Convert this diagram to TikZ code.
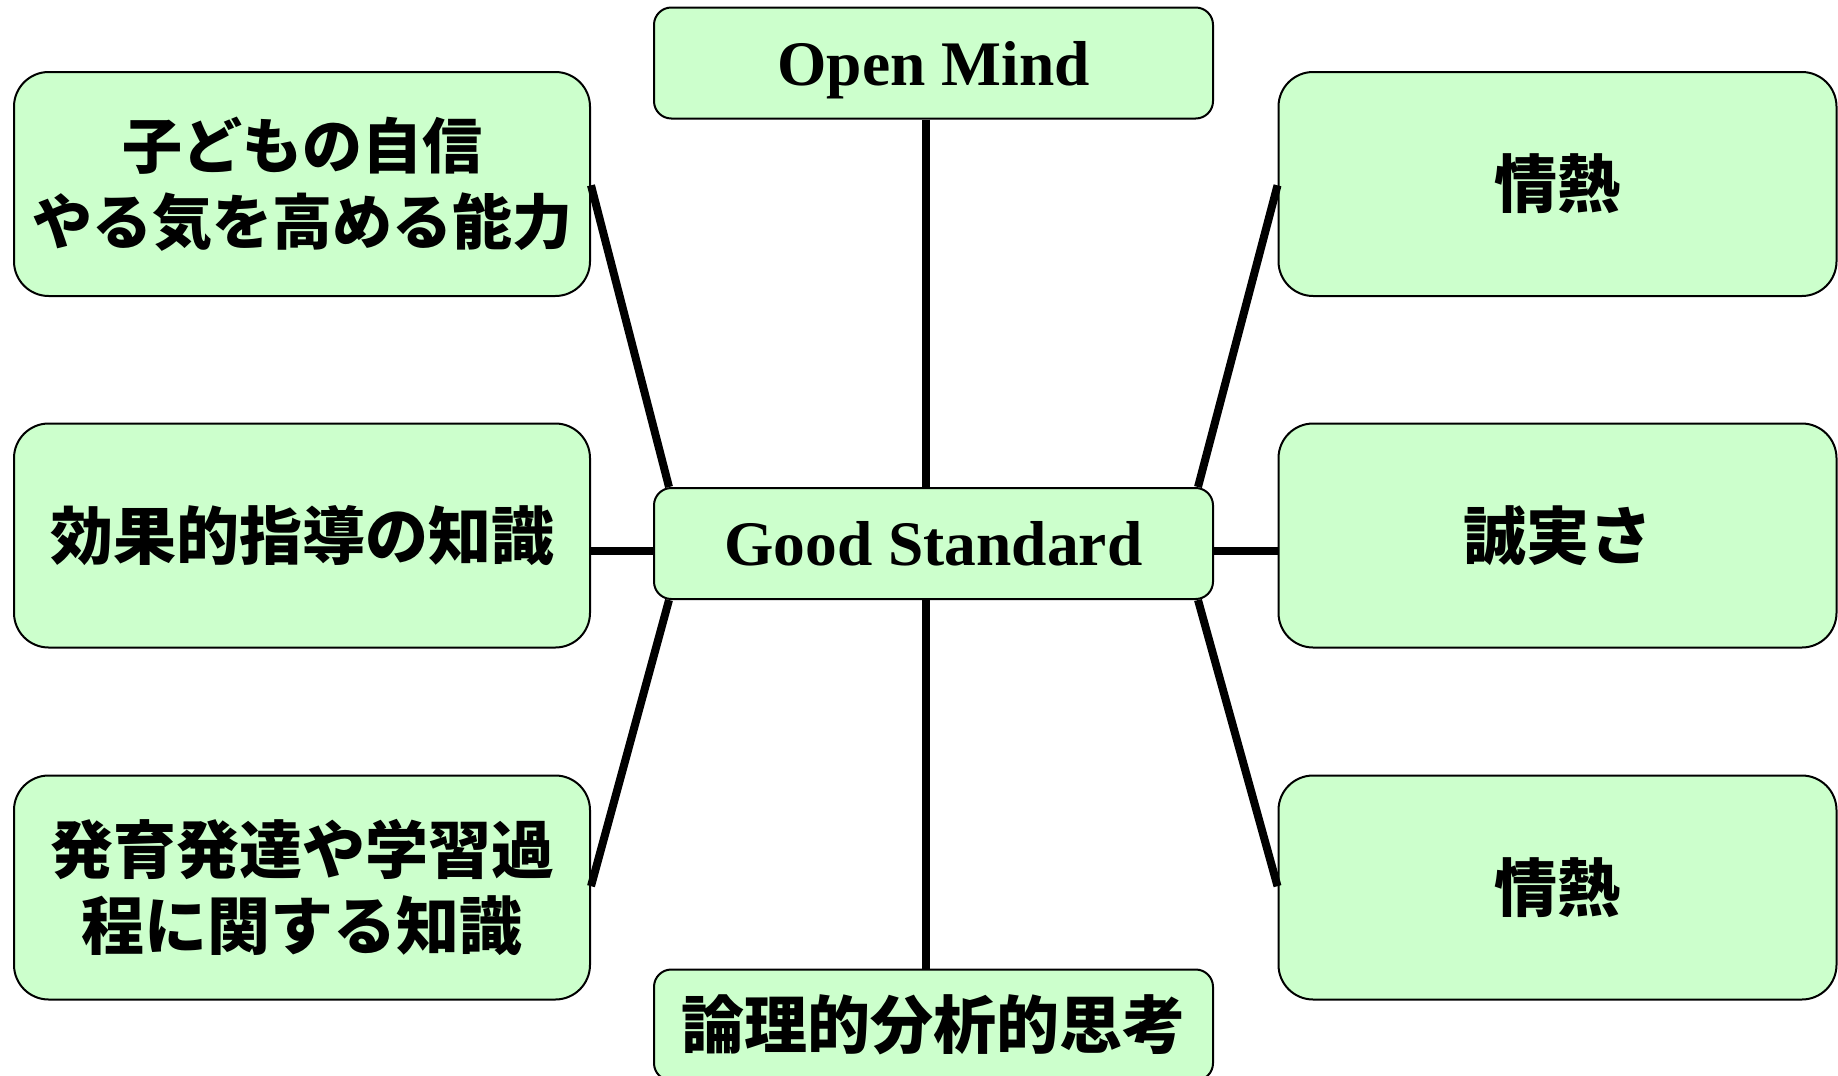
\documentclass[tikz,border=0pt]{standalone}
\usepackage{fontspec}
\setmainfont{Liberation Serif}
\newfontfamily\jpfont{Noto Sans CJK JP}
\definecolor{boxgreen}{HTML}{CCFFCC}
\begin{document}
\begin{tikzpicture}[x=0.75pt,y=-0.75pt,
  box/.style={draw=black, line width=1.5pt, fill=boxgreen, align=center, inner sep=0pt},
  bigbox/.style={box, rounded corners=26pt, minimum height=168pt},
  smallbox/.style={box, rounded corners=13pt, minimum width=419.25pt, minimum height=83.25pt},
  jp/.style={font=\jpfont\bfseries\fontsize{47.25}{57}\selectfont},
  jps/.style={font=\jpfont\bfseries\fontsize{45}{57}\selectfont},
  lat/.style={font=\bfseries\fontsize{47.6}{57}\selectfont, text depth=0pt},
  link/.style={line width=6pt, black}]
\useasboundingbox (0,0) rectangle (1838,1075);
% boxes
\node[smallbox, lat] (om) at (933.5,63) {Open Mind};
\node[smallbox, lat] (gs) at (933.5,543.5) {Good Standard};
\node[smallbox, jp] (bt) at (933.5,1025) {論理的分析的思考};
\node[bigbox, jps, minimum width=432pt] (tl) at (302,184) {子どもの自信\\やる気を高める能力};
\node[bigbox, jp, minimum width=432pt] (ml) at (302,535.5) {効果的指導の知識};
\node[bigbox, jp, minimum width=432pt] (bl) at (302,887.5) {発育発達や学習過\\程に関する知識};
\node[bigbox, jp, minimum width=418.5pt] (tr) at (1557.5,184) {情熱};
\node[bigbox, jp, minimum width=418.5pt] (mr) at (1557.5,535.5) {誠実さ};
\node[bigbox, jp, minimum width=418.5pt] (br) at (1557.5,887.5) {情熱};
% connectors
\draw[link] ([xshift=-5.5pt]om.south) -- ([xshift=-5.5pt]gs.north);
\draw[link] ([xshift=-5.5pt]gs.south) -- ([xshift=-5.5pt]bt.north);
\draw[link] ([yshift=-1pt]tl.east) -- ([xshift=12pt]gs.north west);
\draw[link] ([yshift=1pt]bl.east) -- ([xshift=12pt]gs.south west);
\draw[link] ([yshift=-1pt]tr.west) -- ([xshift=-12pt]gs.north east);
\draw[link] ([yshift=1pt]br.west) -- ([xshift=-12pt]gs.south east);
\draw[link] ([yshift=-5.6pt]ml.east |- gs.west) -- ([yshift=-5.6pt]gs.west);
\draw[link] ([yshift=-5.6pt]gs.east) -- ([yshift=-5.6pt]mr.west |- gs.east);
\end{tikzpicture}
\end{document}
